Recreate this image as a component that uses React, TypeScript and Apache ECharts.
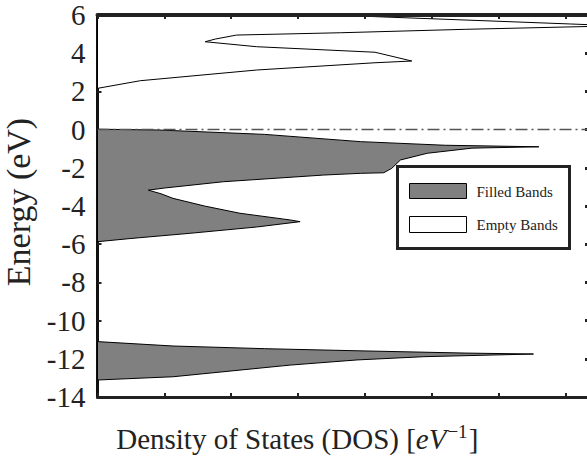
import React, { useEffect, useRef } from "react";
import * as echarts from "echarts";

// Energy axis (eV) tick range
const energyMin = -14;
const energyMax = 6;
const energyStep = 2;
const dosMax = 7.35;

// Band outlines: [DOS, Energy]
const emptyBand: number[][] = [
  [0, 2.16], [0.64, 2.56], [2.38, 3.12], [4.15, 3.5], [4.7, 3.59],
  [4.15, 4.05], [2.38, 4.34], [1.61, 4.6], [1.76, 4.74], [2.08, 4.95],
  [3.63, 5.07], [5.5, 5.25], [7.6, 5.42], [7.6, 5.46], [7.07, 5.53],
  [4.03, 5.93], [3.9, 6.05], [3.5, 6.4], [0, 6.4],
];
const valenceBand: number[][] = [
  [0, 0.02], [0.9, -0.02], [2.5, -0.25], [3.93, -0.63], [5.2, -0.82], [6.6, -0.9],
  [5.6, -0.97], [4.93, -1.24], [4.53, -1.59], [4.4, -2.03], [4.28, -2.26],
  [3.93, -2.29], [3.38, -2.38], [1.88, -2.73], [1.0, -3.06], [0.76, -3.17],
  [0.95, -3.36], [1.13, -3.6], [1.6, -4.0], [2.13, -4.38], [2.88, -4.73],
  [3.03, -4.82], [2.38, -5.1], [1.38, -5.43], [0.5, -5.7], [0, -5.87],
];
const lowerBand: number[][] = [
  [0, -11.1], [1.13, -11.33], [2.5, -11.47], [3.88, -11.58], [5.5, -11.7],
  [6.52, -11.75], [4.88, -11.89], [3.88, -12.06], [2.88, -12.33],
  [1.13, -12.94], [0, -13.11],
];
const fermiLine: number[][] = [[0, 0], [dosMax, 0]];

const legendNames = ["Filled Bands", "Empty Bands"];
const FILL = "#808080";
const SERIF = "'Liberation Serif', 'Times New Roman', serif";

function polygonRenderer(points: number[][], fill: string) {
  return (params: any, api: any) => {
    if (params.dataIndex !== 0) return undefined;
    const pts = points.map((p) => api.coord(p));
    return {
      type: "polygon",
      shape: { points: pts },
      style: { fill, stroke: "#000", lineWidth: 1 },
    };
  };
}

export default function App() {
  const ref = useRef<HTMLDivElement>(null);
  useEffect(() => {
    if (!ref.current) return;
    const chart = echarts.init(ref.current, undefined, { renderer: "svg" });
    const axisCommon = {
      type: "value",
      min: 0,
      max: dosMax,
      interval: 1,
      splitLine: { show: false },
      axisLabel: { show: false },
      axisTick: { show: true, inside: true, length: 4, lineStyle: { color: "#222", width: 2 } },
    };
    chart.setOption({
      animation: false,
      grid: { left: 97.5, right: -2, top: 15, bottom: 71, outerBoundsMode: "none", containLabel: false },
      xAxis: [
        {
          ...axisCommon,
          position: "bottom",
          z: 5,
          axisLine: { show: true, onZero: false, lineStyle: { color: "#222", width: 3 } },
          name: "{a|Density of States (DOS) }{b|[}{i|eV}{s|−1}{b|]}",
          nameLocation: "middle",
          nameGap: 24,
          nameTextStyle: {
            padding: [0, 92, 0, 0],
            rich: {
              a: { fontFamily: SERIF, fontSize: 29, color: "#222", lineHeight: 36 },
              b: { fontFamily: SERIF, fontSize: 29, color: "#222", lineHeight: 36 },
              i: { fontFamily: SERIF, fontStyle: "italic", fontSize: 29, color: "#222", lineHeight: 36 },
              s: { fontFamily: SERIF, fontSize: 19, color: "#222", padding: [0, 1, 16, 1] },
            },
          },
        },
        {
          ...axisCommon,
          position: "top",
          z: 5,
          axisLine: { show: true, onZero: false, lineStyle: { color: "#222", width: 4 } },
        },
      ],
      yAxis: [
        {
          type: "value",
          min: energyMin,
          max: energyMax,
          interval: energyStep,
          position: "left",
          splitLine: { show: false },
          axisLine: { show: true, onZero: false, lineStyle: { color: "#111", width: 3 } },
          axisTick: { show: true, inside: true, length: 4, lineStyle: { color: "#222", width: 2 } },
          axisLabel: { fontFamily: SERIF, fontSize: 29, color: "#222", margin: 12 },
          name: "Energy (eV)",
          nameLocation: "middle",
          nameGap: 58,
          nameTextStyle: { fontFamily: SERIF, fontSize: 34, color: "#222", padding: [0, 0, 0, 8] },
        },
        {
          type: "value",
          min: energyMin,
          max: energyMax,
          interval: energyStep,
          position: "right",
          splitLine: { show: false },
          axisLine: { show: false, onZero: false },
          axisLabel: { show: false },
          axisTick: { show: true, inside: true, length: 4, lineStyle: { color: "#222", width: 3 } },
        },
      ],
      series: [
        {
          type: "custom",
          name: legendNames[1],
          clip: true,
          z: 2,
          data: emptyBand,
          encode: { x: 0, y: 1 },
          renderItem: polygonRenderer(emptyBand, "#fff"),
        },
        {
          type: "custom",
          name: legendNames[0],
          clip: true,
          z: 2,
          data: valenceBand,
          encode: { x: 0, y: 1 },
          renderItem: polygonRenderer(valenceBand, FILL),
        },
        {
          type: "custom",
          name: legendNames[0] + " (low)",
          clip: true,
          z: 2,
          data: lowerBand,
          encode: { x: 0, y: 1 },
          renderItem: polygonRenderer(lowerBand, FILL),
        },
        {
          type: "line",
          data: fermiLine,
          symbol: "none",
          z: 3,
          lineStyle: { color: "#555", width: 1.5, type: [12, 4, 2, 4] },
        },
      ],
      graphic: [
        {
          type: "group",
          left: 396,
          top: 165,
          z: 10,
          children: [
            { type: "rect", shape: { x: 0, y: 0, width: 172, height: 82 }, style: { fill: "#fff", stroke: "#222", lineWidth: 3 } },
            { type: "rect", shape: { x: 12, y: 17, width: 57, height: 15 }, style: { fill: FILL, stroke: "#000", lineWidth: 1 } },
            { type: "text", x: 79, y: 25, style: { text: legendNames[0], fontFamily: SERIF, fontSize: 15, fill: "#222", verticalAlign: "middle" } },
            { type: "rect", shape: { x: 12, y: 50, width: 57, height: 16 }, style: { fill: "#fff", stroke: "#000", lineWidth: 1 } },
            { type: "text", x: 79, y: 58, style: { text: legendNames[1], fontFamily: SERIF, fontSize: 15, fill: "#222", verticalAlign: "middle" } },
          ],
        },
      ],
    });
    return () => chart.dispose();
  }, []);
  return (
    <div style={{ position: "fixed", left: 0, top: 0, width: 587, height: 468, background: "#fff" }}>
      <div ref={ref} style={{ width: 587, height: 468 }} />
    </div>
  );
}
